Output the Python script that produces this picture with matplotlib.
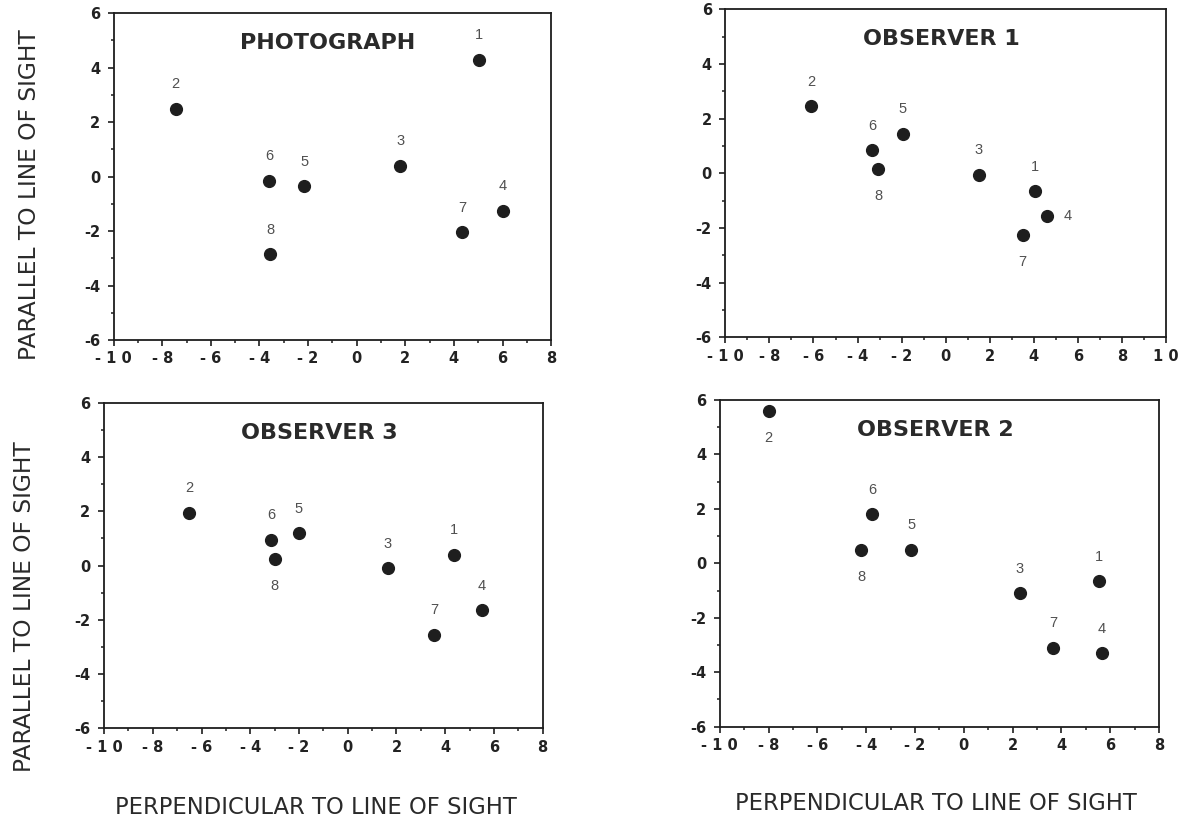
import numpy as np
import matplotlib
matplotlib.use("Agg")
import matplotlib.pyplot as plt

plt.rcParams['font.family'] = 'DejaVu Sans'
plt.rcParams['axes.unicode_minus'] = False

# star numbers, same order in every panel
star_ids = ['1', '2', '3', '4', '5', '6', '7', '8']

photo_x = [5.05, -7.45, 1.8, 6.0, -2.15, -3.6, 4.35, -3.55]
photo_y = [4.3, 2.5, 0.4, -1.25, -0.35, -0.15, -2.05, -2.85]

obs1_x = [4.05, -6.1, 1.5, 4.6, -1.95, -3.35, 3.5, -3.05]
obs1_y = [-0.65, 2.45, -0.05, -1.55, 1.45, 0.85, -2.25, 0.15]

obs3_x = [4.35, -6.5, 1.65, 5.5, -2.0, -3.15, 3.55, -3.0]
obs3_y = [0.4, 1.95, -0.1, -1.65, 1.2, 0.95, -2.55, 0.25]

obs2_x = [5.55, -8.0, 2.3, 5.65, -2.15, -3.75, 3.65, -4.2]
obs2_y = [-0.65, 5.6, -1.1, -3.3, 0.5, 1.8, -3.1, 0.5]

# where each number sits relative to its dot (offset points)
UP, DOWN, RIGHT = (0, 17.5), (0, -19.5), (15, 0)
photo_pos = [UP] * 8
obs1_pos = [UP, UP, UP, RIGHT, UP, UP, DOWN, DOWN]
obs3_pos = [UP] * 7 + [DOWN]
obs2_pos = [UP, DOWN, UP, UP, UP, UP, UP, DOWN]

ink = '#1e1e1e'

fig = plt.figure(figsize=(11.88, 8.19), dpi=100)

panels = [
    ('PHOTOGRAPH', photo_x, photo_y, 8, photo_pos, [0.0957, 0.5849, 0.3682, 0.3989]),
    ('OBSERVER 1', obs1_x, obs1_y, 10, obs1_pos, [0.6106, 0.5882, 0.3708, 0.4005]),
    ('OBSERVER 3', obs3_x, obs3_y, 8, obs3_pos, [0.0876, 0.1107, 0.3692, 0.3976]),
    ('OBSERVER 2', obs2_x, obs2_y, 8, obs2_pos, [0.6058, 0.1127, 0.3698, 0.3989]),
]

for title, xs, ys, xmax, pos, rect in panels:
    ax = fig.add_axes(rect)
    ax.scatter(xs, ys, s=72, color=ink, zorder=3, clip_on=False)
    for sid, x, y, off in zip(star_ids, xs, ys, pos):
        ax.annotate(sid, (x, y), xytext=off, textcoords='offset points',
                    ha='center', va='center', fontsize=10.5, color='#505050',
                    family='Liberation Sans')

    ax.set_xlim(-10, xmax)
    ax.set_ylim(-6, 6)
    xt = np.arange(-10, xmax + 1, 2)
    yt = np.arange(-6, 7, 2)
    ax.set_xticks(xt, labels=[' '.join(str(v)) for v in xt],
                  fontweight='bold', fontsize=10.5, color='#222222')
    ax.set_yticks(yt, labels=[str(v) for v in yt],
                  fontweight='bold', fontsize=10.5, color='#222222')
    ax.set_xticks(np.arange(-10, xmax + 1, 1), minor=True)
    ax.set_yticks(np.arange(-6, 7, 1), minor=True)
    ax.tick_params(axis='x', which='major', direction='out', length=4.3,
                   width=1.2, pad=4, color=ink)
    ax.tick_params(axis='y', which='major', direction='out', length=4.3,
                   width=1.2, pad=5.5, color=ink)
    ax.tick_params(which='minor', direction='out', length=2, width=1.1, color=ink)

    for sp in ax.spines.values():
        sp.set_linewidth(1.3)
        sp.set_color(ink)

    ax.text(0.49, 0.908, title, transform=ax.transAxes, ha='center', va='center',
            fontsize=16, fontweight='bold', color='#2a2a2a')

# shared axis titles
fig.text(30 / 1188, 1 - 195 / 819, 'PARALLEL TO LINE OF SIGHT', rotation=90,
         ha='center', va='center', fontsize=16.8, color='#2a2a2a')
fig.text(25 / 1188, 1 - 607 / 819, 'PARALLEL TO LINE OF SIGHT', rotation=90,
         ha='center', va='center', fontsize=16.8, color='#2a2a2a')
fig.text(316 / 1188, 1 - 808 / 819, 'PERPENDICULAR TO LINE OF SIGHT',
         ha='center', va='center', fontsize=16.3, color='#2a2a2a')
fig.text(936 / 1188, 1 - 804 / 819, 'PERPENDICULAR TO LINE OF SIGHT',
         ha='center', va='center', fontsize=16.3, color='#2a2a2a')

fig.savefig('out.png', dpi=100, facecolor='white')
